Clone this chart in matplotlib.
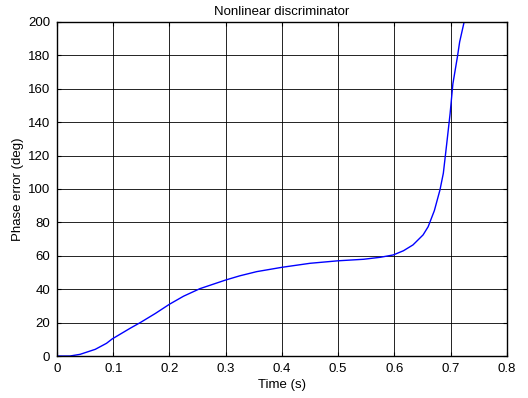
import matplotlib
matplotlib.use('Agg')
import matplotlib.pyplot as plt

# values
t = [0.0, 0.023, 0.041, 0.068, 0.088, 0.098, 0.13, 0.148, 0.175, 0.2, 0.225, 0.254, 0.3, 0.325,
     0.355, 0.4, 0.45, 0.5, 0.545, 0.575, 0.598, 0.616, 0.633, 0.651, 0.66, 0.671, 0.681,
     0.687, 0.693, 0.699, 0.704, 0.712, 0.716, 0.724]
phase = [0.0, 0.0, 1.0, 4.0, 7.6, 10.2, 16.6, 20.0, 25.5, 31.0, 35.8, 40.3, 45.5, 48.0,
         50.5, 53.1, 55.5, 57.0, 57.9, 59.1, 60.5, 63.0, 66.5, 72.5, 77.4, 87.0, 99.4,
         109.4, 127.0, 145.0, 163.0, 179.0, 188.0, 200.0]

xticks = [0, 0.1, 0.2, 0.3, 0.4, 0.5, 0.6, 0.7, 0.8]
xticklabels = ['0', '0.1', '0.2', '0.3', '0.4', '0.5', '0.6', '0.7', '0.8']
yticks = list(range(0, 201, 20))

plt.rcParams['font.family'] = ['Liberation Sans', 'DejaVu Sans']
fs = 9.5

fig = plt.figure(figsize=(5.28, 3.98), dpi=100)
ax = fig.add_axes([0.108, 0.1055, 0.852, 0.8395])

ax.plot(t, phase, color='#0000ff', lw=1)

ax.set_xlim(0, 0.8)
ax.set_ylim(0, 200)
ax.set_xticks(xticks)
ax.set_xticklabels(xticklabels)
ax.set_yticks(yticks)
ax.grid(True, color='black', lw=0.6, ls='-')
ax.tick_params(direction='in', top=True, right=True, length=3, width=0.8,
               labelsize=fs, pad=5)
for s in ax.spines.values():
    s.set_linewidth(1)

ax.set_xlabel('Time (s)', fontsize=fs, labelpad=3)
ax.set_ylabel('Phase error (deg)', fontsize=fs, labelpad=3)
ax.set_title('Nonlinear discriminator', fontsize=fs, pad=5)

fig.savefig('out.png', dpi=100)
